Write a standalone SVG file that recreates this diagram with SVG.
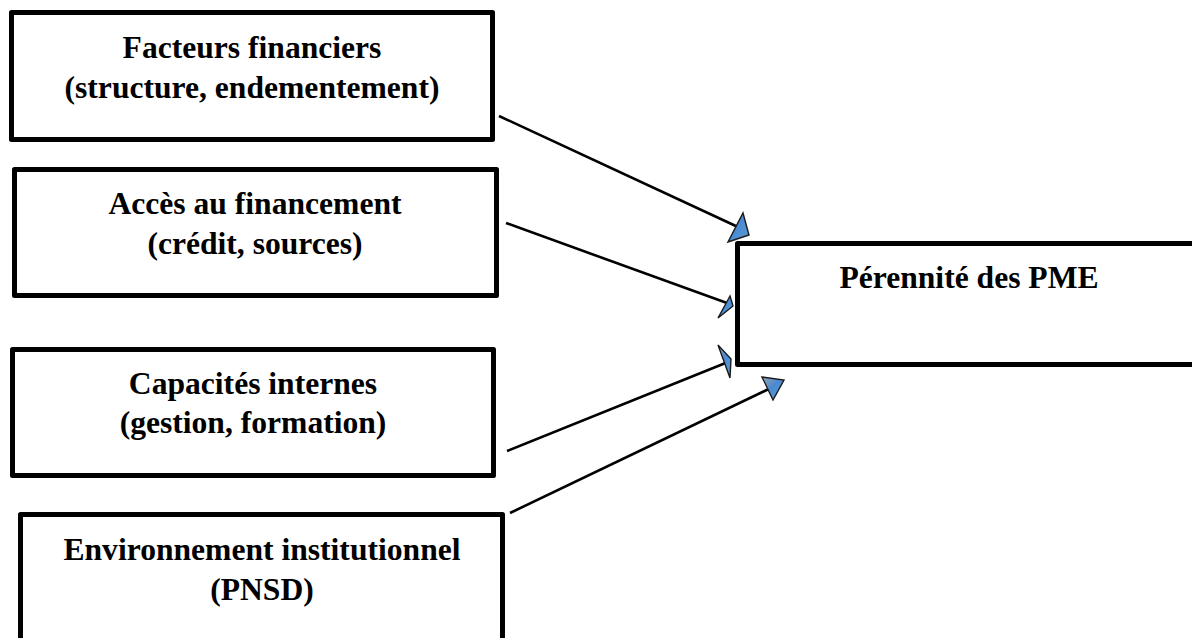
<svg xmlns="http://www.w3.org/2000/svg" width="1192" height="638" viewBox="0 0 1192 638">
<style>
.box{fill:#fff;stroke:#000;stroke-width:5;stroke-linejoin:round}
.lbl{font-family:"Liberation Serif","Times New Roman",serif;font-weight:bold;font-size:31.6px;fill:#000;text-anchor:middle}
.conn{stroke:#000;stroke-width:2.6;fill:none}
.head{fill:url(#hg);stroke:#1a1a1a;stroke-width:1.4;stroke-linejoin:miter}
</style>
<defs>
<linearGradient id="hg" x1="0" y1="0" x2="1" y2="1">
<stop offset="0" stop-color="#9aa6b4"/>
<stop offset="0.45" stop-color="#4a8ad2"/>
<stop offset="1" stop-color="#5b9bd5"/>
</linearGradient>
</defs>
<rect width="1192" height="638" fill="#fff"/>
<g id="connectors">
<line class="conn" x1="499" y1="116" x2="738" y2="227"/>
<polygon class="head" points="743,213 749,235 728,242"/>
<line class="conn" x1="506" y1="223" x2="727" y2="303"/>
<polygon class="head" points="730,296 733,306 718,318"/>
<line class="conn" x1="507" y1="451" x2="728" y2="362"/>
<polygon class="head" points="718,345 731,359 730,378"/>
<line class="conn" x1="510" y1="513" x2="773" y2="387"/>
<polygon class="head" points="762,377 784,380 773,400"/>
</g>
<g id="node-facteurs">
<rect class="box" x="11.5" y="12.5" width="481" height="127"/>
<text class="lbl" x="252" y="58">Facteurs financiers</text>
<text class="lbl" x="252" y="98">(structure, endementement)</text>
</g>
<g id="node-acces">
<rect class="box" x="14.5" y="169.5" width="482" height="126"/>
<text class="lbl" x="255" y="214">Accès au financement</text>
<text class="lbl" x="255" y="254">(crédit, sources)</text>
</g>
<g id="node-capacites">
<rect class="box" x="12.5" y="349.5" width="481" height="126"/>
<text class="lbl" x="253" y="394">Capacités internes</text>
<text class="lbl" x="253" y="433">(gestion, formation)</text>
</g>
<g id="node-environnement">
<rect class="box" x="20.5" y="514.5" width="482" height="140"/>
<text class="lbl" x="262" y="560">Environnement institutionnel</text>
<text class="lbl" x="262" y="600">(PNSD)</text>
</g>
<g id="node-perennite">
<rect class="box" x="737.5" y="243.5" width="480" height="121"/>
<text class="lbl" x="969" y="288">Pérennité des PME</text>
</g>
</svg>
